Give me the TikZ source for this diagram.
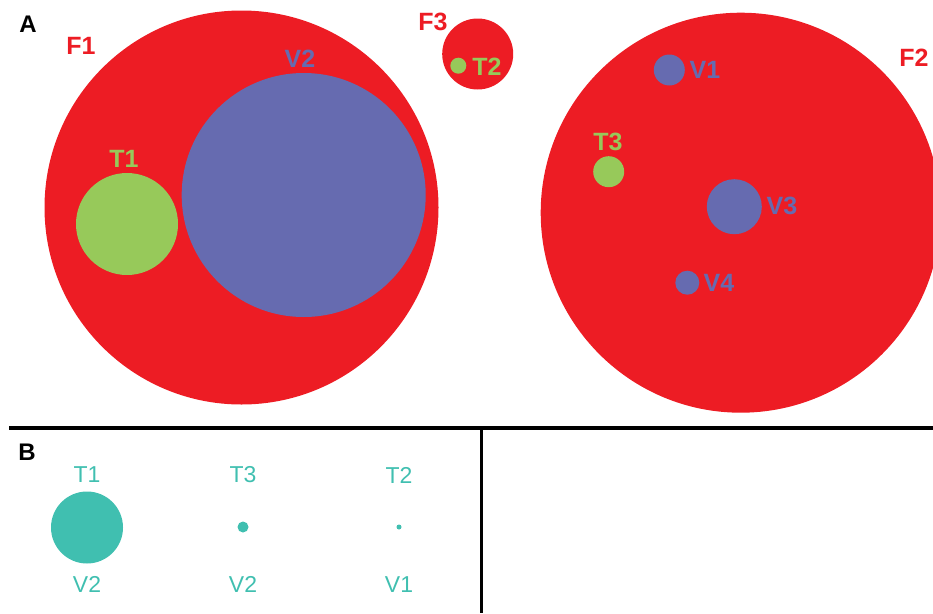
\documentclass[tikz,border=0pt]{standalone}
\usepackage{fontspec}
\setmainfont{Liberation Sans}
\definecolor{fred}{HTML}{ED1C24}
\definecolor{fblue}{HTML}{666BB0}
\definecolor{fgreen}{HTML}{97C95A}
\definecolor{fteal}{HTML}{40BFB0}
\begin{document}
\begin{tikzpicture}[x=1pt,y=-1pt,
  blob/.style={circle,inner sep=0pt,minimum size=#1},
  lbl/.style={inner sep=0pt,font=\fontsize{25}{25}\selectfont\bfseries},
  plbl/.style={inner sep=0pt,font=\fontsize{24}{24}\selectfont\bfseries,text=black},
  tlbl/.style={inner sep=0pt,font=\fontsize{23}{23}\selectfont,text=fteal}]
\useasboundingbox (0,0) rectangle (933,613);
\clip (0,0) rectangle (933,613);
% panel A
\node[plbl] (A) at (28,24) {A};
\node[blob=394pt,fill=fred] (F1) at (241.5,207.5) {};
\node[blob=244pt,fill=fblue] (V2) at (303.7,195) {};
\node[blob=102pt,fill=fgreen] (T1) at (127,224) {};
\node[lbl,text=fred] (F1l) at (81,46) {F1};
\node[lbl,text=fblue] (V2l) at (300,59) {V2};
\node[lbl,text=fgreen] (T1l) at (124,159) {T1};
\node[blob=71pt,fill=fred] (F3) at (477.7,54) {};
\node[blob=16pt,fill=fgreen] (T2) at (458.3,65.7) {};
\node[lbl,text=fred] (F3l) at (433,22) {F3};
\node[lbl,text=fgreen] (T2l) at (487,66.5) {T2};
\node[blob=400pt,fill=fred] (F2) at (740.7,212.7) {};
\node[lbl,text=fred] (F2l) at (914,58) {F2};
\node[blob=31pt,fill=fblue] (V1) at (669.3,70) {};
\node[lbl,text=fblue] (V1l) at (705,70) {V1};
\node[blob=31pt,fill=fgreen] (T3) at (608.7,171.7) {};
\node[lbl,text=fgreen] (T3l) at (608,142) {T3};
\node[blob=55pt,fill=fblue] (V3) at (734.3,206.7) {};
\node[lbl,text=fblue] (V3l) at (782,205.5) {V3};
\node[blob=24pt,fill=fblue] (V4) at (687.3,282.7) {};
\node[lbl,text=fblue] (V4l) at (719,283) {V4};
% dividers
\coordinate (hl) at (9,428);
\coordinate (hr) at (933,428);
\coordinate (vt) at (481,428);
\coordinate (vb) at (481,613);
\draw[line width=3.5pt] (hl) -- (hr);
\draw[line width=3pt] (vt) -- (vb);
% panel B
\node[plbl] (B) at (27,452) {B};
\node[tlbl] (b1t) at (87,475) {T1};
\node[blob=72pt,fill=fteal] (b1) at (87,527.5) {};
\node[tlbl] (b1v) at (87,584.5) {V2};
\node[tlbl] (b2t) at (243,475) {T3};
\node[blob=11pt,fill=fteal] (b2) at (243,527) {};
\node[tlbl] (b2v) at (243,584.5) {V2};
\node[tlbl] (b3t) at (399,475) {T2};
\node[blob=5pt,fill=fteal] (b3) at (399,527) {};
\node[tlbl] (b3v) at (399,584.5) {V1};
\end{tikzpicture}
\end{document}
